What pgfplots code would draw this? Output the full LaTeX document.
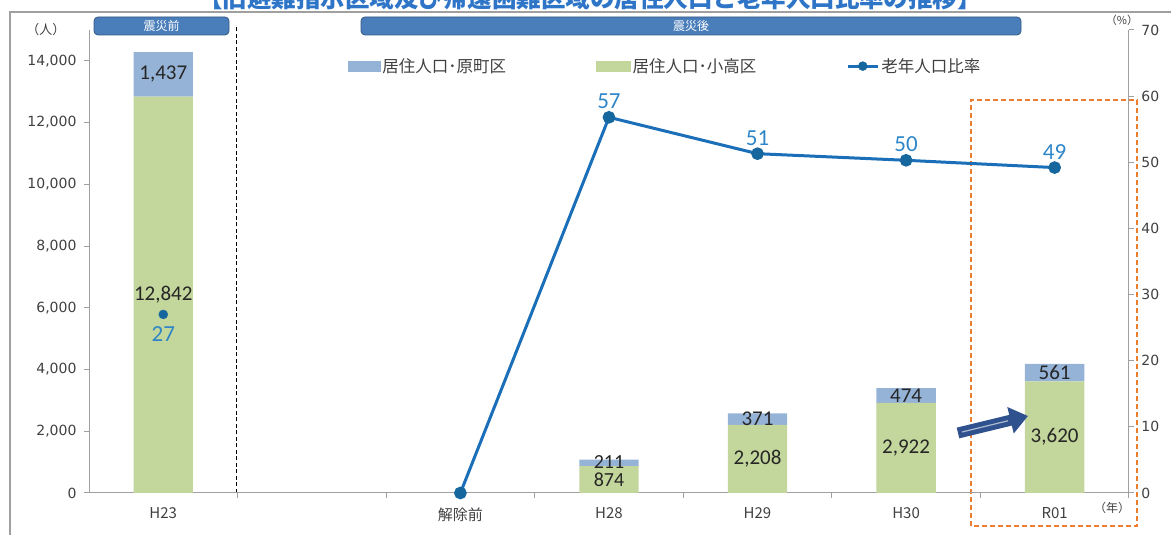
\documentclass[border=0pt]{standalone}
\usepackage{fontspec}
\usepackage{pgfplots}
\pgfplotsset{compat=1.18}
\usetikzlibrary{arrows.meta}
\setmainfont{Noto Sans CJK JP}
\newfontfamily\jp{Noto Sans CJK JP}
\newfontfamily\dv{DejaVu Sans}
\newfontfamily\cb{Carlito}
\definecolor{barblue}{HTML}{95B3D7}
\definecolor{bargreen}{HTML}{C3D69B}
\definecolor{linecol}{HTML}{1A6FB8}
\definecolor{markcol}{HTML}{17679F}
\definecolor{lblblue}{HTML}{2E86C8}
\definecolor{axgray}{HTML}{A0A0A0}
\definecolor{bannerblue}{HTML}{4A7EBB}
\definecolor{titleblue}{HTML}{2E75C8}
\definecolor{orangeD}{HTML}{ED7D31}
\definecolor{arrowblue}{HTML}{2F528F}
\definecolor{ticktext}{HTML}{404040}
\begin{document}
\begin{tikzpicture}[x=1pt,y=1pt]
\useasboundingbox (0,0) rectangle (1171,535);
% outer frame
\draw[axgray, line width=1.2pt] (10,0) -- (10,523) -- (1171,523);
% title (cut at top as in reference)
\node[font=\jp\bfseries\fontsize{24.5}{24.5}\selectfont, text=titleblue] at (590,537) {【旧避難指示区域及び帰還困難区域の居住人口と老年人口比率の推移】};
% banners
\draw[rounded corners=4pt, fill=bannerblue, draw=bannerblue!70!black, line width=0.8pt] (94,500) rectangle (229,518);
\node[text=white, font=\jp\fontsize{12}{12}\selectfont] at (161.5,509) {震災前};
\draw[rounded corners=4pt, fill=bannerblue, draw=bannerblue!70!black, line width=0.8pt] (361,500) rectangle (1021,518);
\node[text=white, font=\jp\fontsize{12}{12}\selectfont] at (691,509) {震災後};
% separator
\draw[black, dashed, line width=1pt, dash pattern=on 4pt off 2.5pt] (236,42) -- (236,510);
% orange box
\draw[orangeD, line width=1.3pt, dash pattern=on 5pt off 3pt] (971,9) rectangle (1137,435);
% unit labels
\node[font=\jp\fontsize{13}{13}\selectfont, text=ticktext] at (46,505) {（人）};
\node[font=\jp\fontsize{11}{11}\selectfont, text=ticktext] at (1122,515) {（\%）};
\node[font=\jp\fontsize{12}{12}\selectfont, text=ticktext] at (1112,27) {（年）};

% bars axis
\begin{axis}[at={(89pt,42pt)}, anchor=south west, scale only axis,
  width=1040pt, height=463pt, clip=false,
  xmin=-0.5, xmax=6.5, ymin=0, ymax=15000,
  axis y line*=left, axis x line*=bottom,
  axis line style={axgray, line width=1pt},
  tick align=outside, major tick length=5pt,
  tick style={axgray, line width=1pt},
  ybar stacked, bar width=0.4,
  xtick={0.5,1.5,...,6.5}, xticklabels={},
  extra x ticks={0,2,3,4,5,6},
  extra x tick labels={H23,解除前,H28,H29,H30,R01},
  extra x tick style={major tick length=0pt},
  xticklabel style={font=\jp\fontsize{15}{15}\selectfont, text=ticktext, yshift=-11pt},
  ytick={0,2000,...,14000},
  scaled y ticks=false,
  /pgf/number format/.cd, 1000 sep={,}, assume math mode=true, /pgfplots/.cd,
  yticklabel style={font=\dv\fontsize{14}{14}\selectfont, text=ticktext, xshift=-4pt},
  legend columns=3,
  legend style={draw=none, fill=none, at={(0.554,0.922)}, anchor=center,
    font=\jp\fontsize{16.5}{16.5}\selectfont, text=ticktext,
    /tikz/every even column/.append style={column sep=88pt}},
  legend entries={居住人口･原町区,居住人口･小高区,老年人口比率},
]
\addlegendimage{legend image code/.code={\fill[barblue] (0pt,-5pt) rectangle (32pt,5pt);}}
\addlegendimage{legend image code/.code={\fill[bargreen] (0pt,-5pt) rectangle (34pt,5pt);}}
\addlegendimage{legend image code/.code={\draw[linecol, line width=3pt] (0pt,0pt) -- (30pt,0pt); \fill[markcol] (15pt,0pt) circle (4.5pt);}}
\addplot[fill=bargreen, draw=none] coordinates {(0,12842) (3,874) (4,2208) (5,2922) (6,3620)};
\addplot[fill=barblue, draw=none] coordinates {(0,1437) (3,211) (4,371) (5,474) (6,561)};
\end{axis}

% bar labels axis
\begin{axis}[at={(89pt,42pt)}, anchor=south west, scale only axis,
  width=1040pt, height=463pt, clip=false, hide axis,
  xmin=-0.5, xmax=6.5, ymin=0, ymax=15000]
\addplot[draw=none, mark=none, nodes near coords, point meta=explicit symbolic,
  every node near coord/.style={anchor=center, inner sep=0pt, font=\cb\fontsize{21}{21}\selectfont, text=black!85}]
  coordinates {(0,13560.5)[1{,}437] (0,6421)[12{,}842]
   (4,2393.5)[371] (4,1104)[2{,}208]
   (5,3159)[474] (5,1461)[2{,}922]
   (6,3900.5)[561] (6,1810)[3{,}620]};
\addplot[draw=none, mark=none, nodes near coords, point meta=explicit symbolic,
  every node near coord/.style={anchor=center, inner sep=0pt, font=\cb\fontsize{20}{20}\selectfont, text=black!85}]
  coordinates {(3,1010)[211] (3,420)[874]};
\end{axis}

% right axis: elderly ratio
\begin{axis}[at={(89pt,42pt)}, anchor=south west, scale only axis,
  width=1040pt, height=463pt, clip=false,
  xmin=-0.5, xmax=6.5, ymin=0, ymax=70,
  axis y line*=right, axis x line=none,
  axis line style={axgray, line width=1pt},
  tick align=outside, major tick length=5pt,
  tick style={axgray, line width=1pt},
  ytick={0,10,...,70},
  /pgf/number format/assume math mode=true,
  yticklabel style={font=\dv\fontsize{14}{14}\selectfont, text=ticktext, xshift=4pt},
]
\addplot[only marks, mark=*, mark size=4.5pt, mark options={fill=markcol, draw=markcol}] coordinates {(0,27)};
\addplot[linecol, line width=3pt, mark=*, mark size=4.8pt, mark options={fill=markcol, draw=markcol}] coordinates {(2,0) (3,56.8) (4,51.3) (5,50.3) (6,49.2)};
\addplot[draw=none, mark=none, nodes near coords, point meta=explicit symbolic,
  every node near coord/.style={anchor=south, inner sep=0pt, yshift=8pt, font=\cb\fontsize{23}{23}\selectfont, text=lblblue}]
  coordinates {(3,56.8)[57] (4,51.3)[51] (5,50.3)[50] (6,49.2)[49]};
\addplot[draw=none, mark=none, nodes near coords, point meta=explicit symbolic,
  every node near coord/.style={anchor=north, inner sep=0pt, yshift=-12pt, font=\cb\fontsize{23}{23}\selectfont, text=lblblue}]
  coordinates {(0,27)[27]};
\end{axis}

% arrow
\draw[-{Triangle[width=26pt,length=18pt]}, line width=11pt, arrowblue] (958,102) -- (1028,119);
\draw[line width=1.2pt, white!60!arrowblue] (962,103) -- (1008,114.2);
\end{tikzpicture}
\end{document}
